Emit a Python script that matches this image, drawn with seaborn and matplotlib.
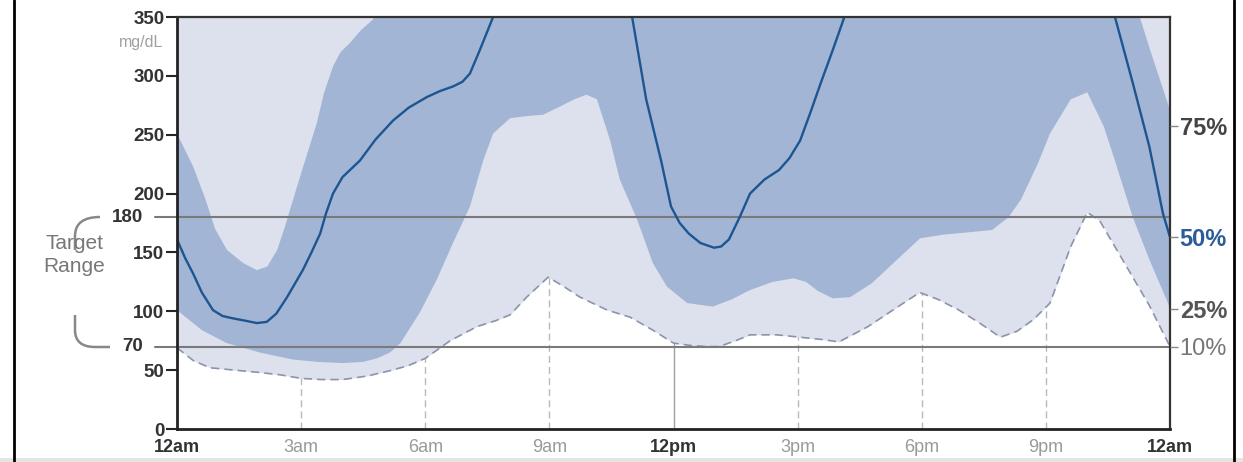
import numpy as np
import matplotlib.pyplot as plt
import matplotlib.transforms as mtransforms
import seaborn as sns
from matplotlib.path import Path
from matplotlib.patches import PathPatch, Rectangle
from matplotlib.lines import Line2D

# ---- data (hours since midnight, mg/dL) ----
# 10th percentile: lower edge of the light band (dashed line)
p10_hours = [0, 0.4, 0.8, 1.4, 2.0, 2.5, 3.0, 3.5, 4.0, 4.6, 5.2, 5.6, 6.0, 6.6, 7.25, 7.7, 8.05,
             8.45, 8.97, 9.35, 9.74, 10.4, 10.95, 11.5, 12.0, 12.4, 12.8, 13.1, 13.5, 13.85, 14.5,
             15.05, 15.6, 16.0, 16.7, 17.3, 17.95, 18.4, 18.9, 19.4, 19.9, 20.3, 20.7, 21.1,
             21.6, 22.0, 22.3, 23.0, 23.5, 24.0]
p10 = [69, 58, 52, 50, 48, 46, 43, 42, 42, 45, 50, 54, 60, 75, 87, 92, 97,
       112, 129, 121, 112, 101, 95, 84, 73, 71, 70, 70, 75, 80, 80,
       78, 76, 74, 87, 101, 116, 110, 101, 90, 78, 83, 93, 107,
       155, 184, 177, 135, 105, 70]

# 25th percentile: lower edge of the dark band
p25_hours = [0, 0.6, 1.2, 2.0, 2.8, 3.4, 4.0, 4.5, 4.83, 5.15, 5.4, 5.87, 6.28, 6.67, 7.08, 7.4,
             7.64, 8.05, 8.5, 8.85, 9.26, 9.6, 9.9, 10.15, 10.47, 10.7, 11.12, 11.5, 11.84,
             12.33, 12.95, 13.4, 13.85, 14.4, 14.9, 15.2, 15.5, 15.85, 16.27, 16.8, 17.47,
             17.96, 18.5, 19.1, 19.7, 20.1, 20.4, 20.8, 21.1, 21.6, 22.0, 22.4, 22.65, 23.1,
             23.5, 24.0]
p25 = [101, 84, 73, 65, 59, 57, 56, 57, 60, 65, 73, 99, 127, 158, 189, 228,
       251, 264, 266, 267, 274, 280, 284, 280, 245, 212, 178, 141, 121,
       107, 104, 110, 118, 125, 128, 125, 117, 111, 112, 124, 146,
       162, 165, 167, 169, 180, 195, 225, 251, 280, 286, 257, 230, 180,
       144, 103]

# 75th percentile: upper edge of the dark band (off the top between ~5am and ~11pm)
p75_hours = [0, 0.39, 0.68, 0.92, 1.21, 1.6, 1.93, 2.18, 2.42, 2.61, 2.85, 3.05, 3.38, 3.55,
             3.77, 3.95, 4.18, 4.45, 4.74, 5.2, 23.0, 23.27, 23.52, 24.0]
p75 = [251, 223, 196, 170, 152, 141, 135, 138, 152, 172, 200, 223, 260, 285,
       308, 320, 328, 339, 348, 380, 380, 350, 322, 271]

# median (50th percentile)
med_hours = [0, 0.2, 0.39, 0.6, 0.87, 1.1, 1.35, 1.65, 1.93, 2.17, 2.4, 2.66, 3.04, 3.25, 3.46,
             3.6, 3.77, 4.0, 4.42, 4.8, 5.22, 5.6, 6.04, 6.35, 6.67, 6.9, 7.08, 7.32, 7.64,
             8.0, 10.7, 11.0, 11.34, 11.7, 11.94, 12.15, 12.37, 12.65, 12.98, 13.15, 13.34,
             13.6, 13.85, 14.2, 14.55, 14.8, 15.06, 15.3, 15.56, 15.85, 16.1, 16.4, 22.4,
             22.67, 23.1, 23.5, 23.83, 24.0]
median = [161, 145, 132, 116, 101, 96, 94, 92, 90, 91, 98, 112, 135, 150, 166,
          183, 200, 214, 228, 246, 262, 273, 282, 287, 291, 295, 302, 322, 350,
          380, 380, 350, 280, 228, 189, 175, 166, 158, 154, 155, 161,
          180, 200, 212, 220, 230, 245, 268, 294, 322, 347, 380, 380,
          350, 294, 240, 183, 163]
# 90th percentile stays above 350 mg/dL all day -> light band runs to the top

hour_ticks = [0, 3, 6, 9, 12, 15, 18, 21, 24]
hour_labels = ['12am', '3am', '6am', '9am', '12pm', '3pm', '6pm', '9pm', '12am']
glucose_ticks = [0, 50, 100, 150, 200, 250, 300, 350]
target_high = 180
target_low = 70
pct_labels = ['75%', '50%', '25%', '10%']
pct_values = [257, 163, 102, 70]

Y_MAX = 350
LIGHT = '#dde1ed'
DARK = '#a3b5d5'
MED = '#1d5590'

sns.set_style('white')
plt.rcParams['font.family'] = ['Liberation Sans', 'DejaVu Sans']

W, H = 1243, 462
fig = plt.figure(figsize=(W / 100, H / 100), dpi=100)
ax = fig.add_axes([177 / W, 1 - 429 / H, (1170 - 177) / W, (429 - 17) / H])

# 3-hour grid lines, only visible below the bands
for h in hour_ticks[1:-1]:
    if h == 12:
        ax.axvline(h, color='#a0a0a0', lw=1, zorder=1)
    else:
        ax.axvline(h, color='#b8b8b8', lw=1, ls=(0, (5, 3)), zorder=1)

# bands
ax.fill_between(p10_hours, p10, Y_MAX, color=LIGHT, lw=0, zorder=2)
ax.fill(np.concatenate([p25_hours, p75_hours[::-1]]),
        np.concatenate([p25, p75[::-1]]), color=DARK, lw=0, zorder=3)
sns.lineplot(x=p10_hours, y=p10, ax=ax, color='#8c94ab', lw=1.2,
             linestyle=(0, (5, 3)), zorder=4)

# target range lines, reaching out to the labels on the left
trans = mtransforms.blended_transform_factory(ax.transAxes, ax.transData)
for v in (target_high, target_low):
    ax.plot([-0.022, 1], [v, v], transform=trans, color='#7a7a7a', lw=1.5,
            clip_on=False, zorder=5)
    ax.text(-0.034, v, str(v), transform=trans, ha='right', va='center',
            fontsize=13.5, fontweight='bold', color='#333333')

sns.lineplot(x=med_hours, y=median, ax=ax, color=MED, lw=1.7, zorder=6)

ax.set_xlim(0, 24)
ax.set_ylim(0, Y_MAX)
ax.set_xlabel('')
ax.set_ylabel('')

ax.set_yticks(glucose_ticks)
ax.set_yticklabels([str(t) for t in glucose_ticks], fontsize=13.5,
                   fontweight='bold', color='#333333')
ax.tick_params(axis='y', length=8, width=1.5, direction='out', pad=1, left=True)

ax.set_xticks(hour_ticks)
ax.set_xticklabels(hour_labels, fontsize=13)
ax.tick_params(axis='x', length=0, pad=7)
for lab, t in zip(ax.get_xticklabels(), hour_ticks):
    if t % 12 == 0:
        lab.set_fontweight('bold')
        lab.set_color('#333333')
    else:
        lab.set_color('#9a9a9a')

for side in ['left', 'bottom']:
    ax.spines[side].set_linewidth(2)
    ax.spines[side].set_color('#222222')
for side in ['top', 'right']:
    ax.spines[side].set_linewidth(1.6)
    ax.spines[side].set_color('#333333')
for s in ax.spines.values():
    s.set_zorder(10)

# percentile labels on the right
ax2 = ax.twinx()
ax2.set_ylim(0, Y_MAX)
ax2.set_yticks(pct_values)
ax2.set_yticklabels(pct_labels, fontsize=17)
ax2.tick_params(axis='y', length=6, width=1, color='#888888', pad=1, right=True)
for s in ax2.spines.values():
    s.set_visible(False)
pct_styles = [('bold', '#444444'), ('bold', '#2b5c97'), ('bold', '#555555'), ('normal', '#777777')]
for lab, (w, c) in zip(ax2.get_yticklabels(), pct_styles):
    lab.set_fontweight(w)
    lab.set_color(c)

# unit and target range annotation
fig.text(163 / W, 1 - 42 / H, 'mg/dL', ha='right', va='center', fontsize=11.5, color='#a0a0a0')
fig.text(74 / W, 1 - 255 / H, 'Target\nRange', ha='center', va='center', fontsize=15,
         color='#777777', linespacing=1.3)


def fpt(x, y):
    return (x / W, 1 - y / H)


bracket_top = Path([fpt(100, 217), fpt(75, 217), fpt(75, 236), fpt(75, 250)],
                   [Path.MOVETO, Path.CURVE3, Path.CURVE3, Path.LINETO])
bracket_bot = Path([fpt(75, 315), fpt(75, 330), fpt(75, 347), fpt(95, 347), fpt(110, 347)],
                   [Path.MOVETO, Path.LINETO, Path.CURVE3, Path.CURVE3, Path.LINETO])
for p in (bracket_top, bracket_bot):
    fig.add_artist(PathPatch(p, transform=fig.transFigure, fill=False,
                             edgecolor='#888888', lw=1.8))

# outer frame of the screenshot
fig.add_artist(Line2D([14 / W, 14 / W], [0, 1], color='black', lw=2))
fig.add_artist(Line2D([1234 / W, 1234 / W], [0, 1], color='black', lw=2))
fig.add_artist(Rectangle((0, 0), 1, 4 / H, transform=fig.transFigure,
                         color='#e4e4e4', lw=0))

plt.savefig('out.png', dpi=100)
